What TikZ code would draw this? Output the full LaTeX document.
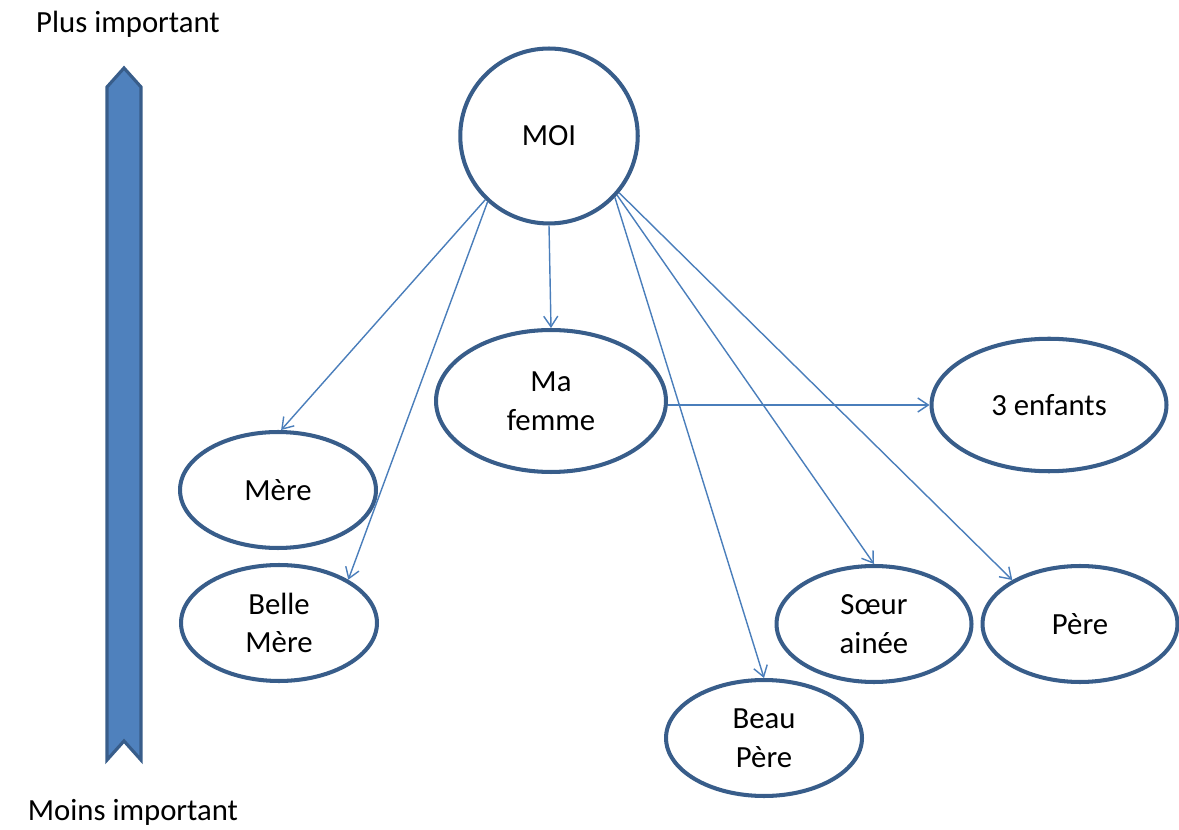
\documentclass[tikz,border=0pt]{standalone}
\usepackage{fontspec}
\setmainfont{Carlito}
\usetikzlibrary{arrows.meta, shapes.geometric}

\definecolor{bordblue}{HTML}{385D8A}
\definecolor{lineblue}{HTML}{4A7EBB}
\definecolor{fillblue}{HTML}{4F81BD}

\begin{document}
\begin{tikzpicture}[
x=0.02cm, y=-0.02cm,
font=\fontsize{17.5}{22}\selectfont,
bubble/.style={draw=bordblue, line width=2.3pt, ellipse, align=center, inner sep=0pt},
arrow/.style={-{Straight Barb[length=6pt, width=8pt]}, draw=lineblue, line width=0.8pt}
]

\useasboundingbox (0,0) rectangle (1179,830);

% scale of importance
\draw[bordblue, line width=1.8pt, fill=fillblue, line join=miter]
  (107,760) -- (107,87) -- (124,68) -- (141,87) -- (141,760) -- (124,741) -- cycle;
\node (plus) at (128,24) {Plus important};
\node (moins) at (133,812) {Moins important};

\node[bubble, minimum width=3.55cm, minimum height=3.5cm] (moi) at (549,136) {MOI};

\node[bubble, minimum width=4.6cm, minimum height=2.84cm] (femme) at (551,401) {Ma\\femme};
\node[bubble, minimum width=4.7cm, minimum height=2.65cm] (enfants) at (1049,405) {3 enfants};

\node[bubble, minimum width=3.92cm, minimum height=2.32cm] (mere) at (278,490) {Mère};
\node[bubble, minimum width=3.92cm, minimum height=2.32cm] (bellemere) at (279,623) {Belle\\Mère};

\node[bubble, minimum width=3.9cm, minimum height=2.32cm] (soeur) at (874,624) {Sœur\\ainée};
\node[bubble, minimum width=3.9cm, minimum height=2.32cm] (pere) at (1080,624) {Père};
\node[bubble, minimum width=3.92cm, minimum height=2.32cm] (beaupere) at (764,738) {Beau\\Père};

\draw[arrow] (moi.225) -- (mere.87);
\draw[arrow] (moi.227) -- (bellemere.32);
\draw[arrow] (moi.south) -- (femme.north);
\draw[arrow] (moi.317) -- (beaupere.north);
\draw[arrow] (moi.319) -- (soeur.north);
\draw[arrow] (moi.321) -- (pere.147);
\draw[arrow] (femme.east |- enfants.west) -- (enfants.west);

\end{tikzpicture}
\end{document}
